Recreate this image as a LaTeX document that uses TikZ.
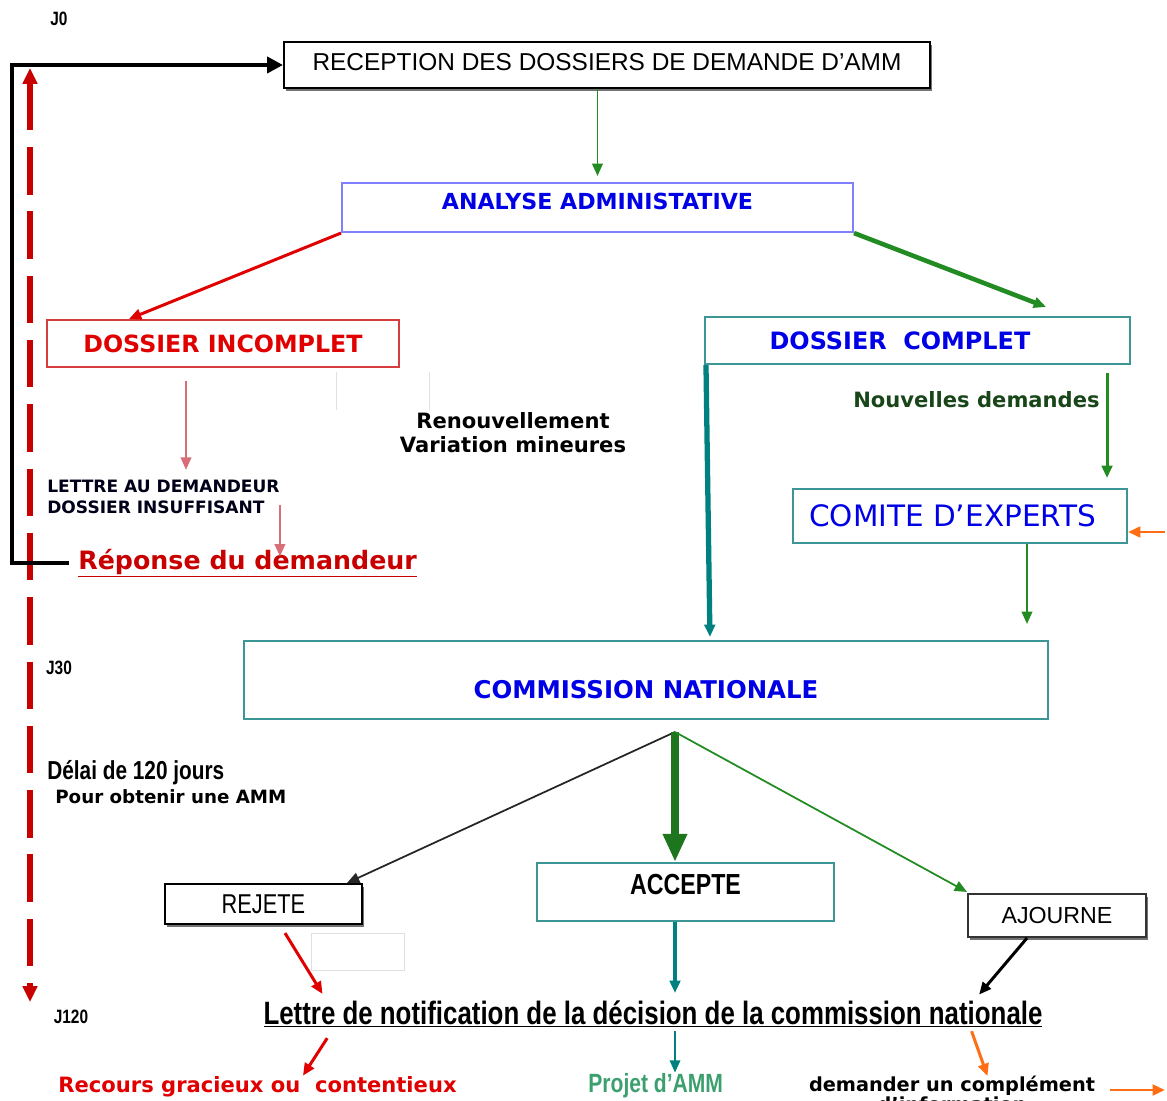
\documentclass[tikz,border=0pt]{standalone}
\usepackage{fontspec}
\setmainfont{DejaVu Sans}
\newfontfamily\arialfont{Liberation Sans}
\newfontfamily\narrowfont[FakeStretch=0.8]{Liberation Sans}
\usetikzlibrary{arrows.meta,shadows}

\definecolor{bleutexte}{RGB}{0,0,230}
\definecolor{bleucadre}{RGB}{128,128,255}
\definecolor{rougecadre}{RGB}{215,60,60}
\definecolor{rougetexte}{RGB}{225,0,0}
\definecolor{rougefonce}{RGB}{200,0,0}
\definecolor{sarcelle}{RGB}{60,150,150}
\definecolor{sarcellefleche}{RGB}{0,128,128}
\definecolor{vertfleche}{RGB}{34,139,34}
\definecolor{vertfonce}{RGB}{25,70,25}
\definecolor{vertprojet}{RGB}{60,160,110}
\definecolor{orangefleche}{RGB}{255,110,20}
\definecolor{rosefleche}{RGB}{215,110,120}

\newcommand\taille[2]{\fontsize{#1}{#2}\selectfont}

\tikzset{
  boite/.style={draw, rectangle, inner sep=0pt, line width=1.2pt, fill=white},
  ombre/.style={drop shadow={shadow xshift=1.2pt, shadow yshift=-1.6pt, fill=black!55, opacity=1}},
  texte/.style={inner sep=0pt},
  fleche/.style={-{Triangle[length=7pt,width=6pt]}, line width=1.1pt},
  boucle/.style={-{Triangle[length=9pt,width=9pt]}, line width=2.3pt, black},
  pointille/.style={{Triangle[length=9pt,width=8pt]}-{Triangle[length=9pt,width=8pt]}, line width=3.4pt, rougefonce, dash pattern=on 27pt off 9.6pt}
}

\begin{document}
\begin{tikzpicture}[x=0.02cm,y=-0.02cm]
\useasboundingbox (0,0) rectangle (1167,1101);

\node[boite,ombre,minimum width=12.92cm,minimum height=0.92cm,text height=0.36cm,text depth=0.12cm] (rec) at (607,65) {\arialfont\taille{13.9}{16}RECEPTION DES DOSSIERS DE DEMANDE D’AMM};
\node[boite,draw=bleucadre,minimum width=10.22cm,minimum height=0.98cm,text height=0.32cm,text depth=0.22cm,text=bleutexte] (ana) at (597.5,207.5) {\bfseries\taille{12.6}{15}ANALYSE ADMINISTATIVE};
\node[boite,draw=rougecadre,minimum width=7.04cm,minimum height=0.94cm,text=rougetexte] (inc) at (223,343.5) {\bfseries\taille{13.5}{16}DOSSIER INCOMPLET};
\node[boite,draw=sarcelle,minimum width=8.5cm,minimum height=0.94cm,text=bleutexte] (cpl) at (917.5,340.5) {\bfseries\taille{13.6}{16}DOSSIER\ \ COMPLET\hspace*{0.7cm}};
\node[boite,draw=sarcelle,minimum width=6.68cm,minimum height=1.08cm,text=bleutexte] (com) at (960,516) {\taille{16.8}{20}COMITE D’EXPERTS\hspace*{0.3cm}};
\node[boite,draw=sarcelle,minimum width=16.08cm,minimum height=1.56cm,text height=0.76cm,text depth=0pt,text=bleutexte] (cn) at (646,680) {\bfseries\taille{13.9}{16}COMMISSION NATIONALE};
\node[boite,ombre,minimum width=3.94cm,minimum height=0.8cm] (rej) at (263.5,904) {\narrowfont\taille{15.5}{18}REJETE};
\node[boite,draw=sarcelle,minimum width=5.94cm,minimum height=1.16cm,text height=0.42cm,text depth=0.32cm] (acc) at (685.5,892) {\narrowfont\bfseries\taille{16.5}{19}ACCEPTE};
\node[boite,ombre,draw=black!80,minimum width=3.56cm,minimum height=0.86cm] (ajo) at (1057,915.5) {\arialfont\taille{13.2}{16}AJOURNE};

\node[texte] (j0) at (59,19) {\narrowfont\bfseries\taille{11}{13}J0};
\node[texte] (jtrente) at (59,668) {\narrowfont\bfseries\taille{11}{13}J30};
\node[texte] (jfin) at (71,1017) {\narrowfont\bfseries\taille{11}{13}J120};

\node[texte,anchor=west,align=left,text=black!90!blue,font=\bfseries\taille{9.7}{12}] (lettre) at (47,497) {LETTRE AU DEMANDEUR\\DOSSIER INSUFFISANT};
\node[texte,anchor=base west,text=rougefonce] (rep) at (78,569) {\bfseries\taille{14.4}{17}\underline{Réponse du demandeur}};
\node[texte,align=center,font=\bfseries\taille{12}{13.6}] (renouv) at (513,433) {Renouvellement\\Variation mineures};
\node[texte,anchor=east,text=vertfonce] (nouv) at (1100,400) {\bfseries\taille{12}{14}Nouvelles demandes};
\node[texte,anchor=west] (delai) at (47,773) {\narrowfont\bfseries\taille{14.8}{17}Délai de 120 jours};
\node[texte,anchor=west] (pour) at (55,797) {\bfseries\taille{10.4}{12}Pour obtenir une AMM};

\node[texte,anchor=base] (notif) at (653,1024) {\narrowfont\bfseries\taille{18.4}{20}\underline{Lettre de notification de la décision de la commission nationale}};
\node[texte,anchor=base west,text=rougetexte] (recours) at (58,1092) {\bfseries\taille{12}{14}Recours gracieux ou\ \ contentieux};
\node[texte,anchor=base west,text=vertprojet] (projet) at (588,1092) {\narrowfont\bfseries\taille{15}{17}Projet d’AMM};
\node[texte,anchor=north,align=center,font=\bfseries\taille{11}{11}] (compl) at (952,1076) {demander un complément\\d’information};

\coordinate (bord) at (12,300);
\coordinate (dhaut) at (30,68);
\coordinate (dbas) at (30,1002);
\coordinate (oracom) at (1165,532);
\coordinate (depart) at (675,732);
\coordinate (orafin) at (1165,1090);

\draw[pointille] (dhaut) -- (dbas);
\draw[boucle,shorten <=5pt] (rep.west) -- (rep.west -| bord) |- (rec.west);

\draw[fleche,vertfleche,shorten >=3.4pt] (ana.north |- rec.south) -- (ana.north);
\draw[fleche,rougetexte,line width=1.7pt] (ana.south west) -- ([xshift=1.66cm]inc.north west);
\draw[fleche,vertfleche,line width=2.6pt] (ana.south east) -- ([xshift=-1.7cm,yshift=0.18cm]cpl.north east);
\draw[fleche,rosefleche] ([xshift=-0.74cm,yshift=-0.26cm]inc.south) -- ([xshift=-0.74cm,yshift=0.2cm]inc.south |- lettre.north);
\draw[fleche,rosefleche] ([yshift=-0.16cm]lettre.east) -- ([yshift=-0.16cm]lettre.east |- rep.north);

\draw[fleche,sarcellefleche,line width=3pt,shorten >=0.06cm] ([xshift=0.04cm]cpl.south west) -- ([xshift=0.12cm]cpl.south west |- cn.north);
\draw[fleche,vertfleche,line width=1.7pt] ([xshift=-0.48cm,yshift=-0.16cm]cpl.south east) -- ([xshift=-0.48cm,yshift=0.2cm]cpl.south east |- com.north);
\draw[fleche,orangefleche,line width=1.7pt] (oracom) -- (com.east |- oracom);
\draw[fleche,vertfleche] ([xshift=1.34cm]com.south) -- ([xshift=1.34cm,yshift=0.32cm]com.south |- cn.north);

\draw[fleche,black!85,line width=1pt] (depart) -- ([xshift=-0.32cm]rej.north east);
\draw[-{Triangle[length=16pt,width=13pt]},vertfleche!85!black,line width=4.5pt] (depart) -- (depart |- acc.north);
\draw[fleche,vertfleche,line width=1pt] (depart) -- ([yshift=0.02cm]ajo.north west);

\draw[fleche,rougetexte,line width=1.7pt,shorten >=4pt] ([xshift=0.43cm,yshift=-0.16cm]rej.south) -- ([xshift=1.26cm]notif.north west);
\draw[fleche,sarcellefleche,line width=2.3pt,shorten >=4pt] (depart |- acc.south) -- (depart |- notif.north);
\draw[fleche,black,line width=1.7pt,shorten >=4pt] ([xshift=-0.6cm]ajo.south) -- ([xshift=14.23cm]notif.north west);

\draw[fleche,rougetexte,line width=1.7pt] ([xshift=1.28cm,yshift=-0.2cm]notif.south west) -- ([xshift=4.9cm]recours.north west);
\draw[fleche,sarcellefleche,shorten <=0.06cm] (depart |- notif.south) -- (depart |- projet.north);
\draw[fleche,orangefleche,line width=1.7pt] ([xshift=14.17cm,yshift=-0.06cm]notif.south west) -- ([xshift=0.71cm]compl.north);
\draw[fleche,orangefleche,line width=1.7pt] ([xshift=0.3cm]compl.east |- orafin) -- (orafin);

\draw[black!12] (336,372) -- (336,410);
\draw[black!12] (429,372) -- (429,410);
\draw[black!12] (311,933) rectangle (404,970);
\end{tikzpicture}
\end{document}
